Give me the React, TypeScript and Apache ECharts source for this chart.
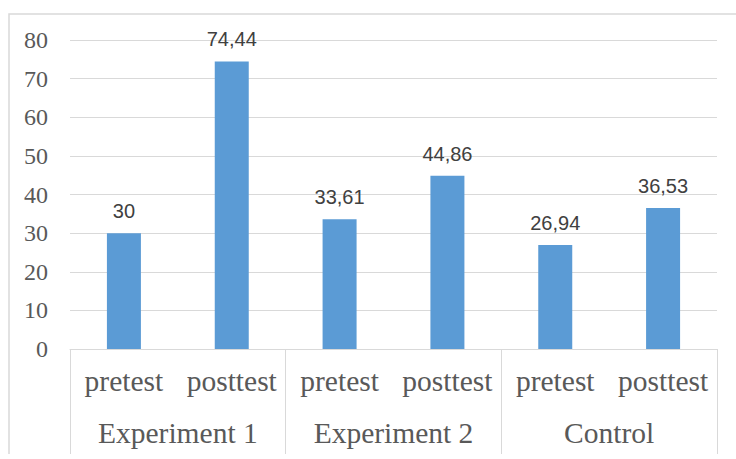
import React, { useEffect, useRef } from "react";
import * as echarts from "echarts";

// Mean scores per group, before and after the intervention
const groups = ["Experiment 1", "Experiment 2", "Control"];
const phases = ["pretest", "posttest"];
const scores = [30, 74.44, 33.61, 44.86, 26.94, 36.53];
const yTicks = { min: 0, max: 80, interval: 10 };

const phaseLabels = groups.flatMap(() => phases);

const GRID = "#d9d9d9";
const TEXT = "#595959";
const BAR = "#5b9bd5";
const SERIF = "Liberation Serif, serif";

export default function App() {
  const ref = useRef<HTMLDivElement>(null);

  useEffect(() => {
    if (!ref.current) return;
    const chart = echarts.init(ref.current, undefined, { renderer: "svg" });
    chart.setOption({
      animation: false,
      backgroundColor: "#ffffff",
      graphic: [
        {
          type: "rect",
          shape: { x: 9, y: 14, width: 760, height: 480 },
          style: { fill: "none", stroke: GRID, lineWidth: 1.5 },
          silent: true,
        },
      ],
      grid: { left: 70, right: 19, top: 40, bottom: 105 },
      xAxis: [
        {
          type: "category",
          data: phaseLabels,
          position: "bottom",
          axisLine: { show: true, lineStyle: { color: GRID, width: 1 } },
          axisTick: { show: false },
          splitLine: { show: false },
          axisLabel: {
            interval: 0,
            margin: 17,
            color: TEXT,
            fontFamily: SERIF,
            fontSize: 29.5,
          },
        },
        {
          type: "category",
          data: groups,
          position: "bottom",
          offset: 0,
          axisLine: { show: false },
          axisTick: {
            show: true,
            interval: 0,
            length: 110,
            lineStyle: { color: GRID, width: 1 },
          },
          splitLine: { show: false },
          axisLabel: {
            interval: 0,
            margin: 69,
            color: TEXT,
            fontFamily: SERIF,
            fontSize: 29.5,
          },
        },
      ],
      yAxis: {
        type: "value",
        min: yTicks.min,
        max: yTicks.max,
        interval: yTicks.interval,
        axisLine: { show: false },
        axisTick: { show: false },
        splitLine: { lineStyle: { color: GRID, width: 1 } },
        axisLabel: {
          margin: 22,
          color: TEXT,
          fontFamily: SERIF,
          fontSize: 24,
        },
      },
      series: [
        {
          type: "bar",
          xAxisIndex: 0,
          data: scores,
          barWidth: 34,
          itemStyle: { color: BAR },
          label: {
            show: true,
            position: "top",
            distance: 12,
            color: "#404040",
            fontFamily: "Liberation Sans, sans-serif",
            fontSize: 20,
            formatter: (p: any) => String(p.value).replace(".", ","),
          },
        },
      ],
    });
    return () => chart.dispose();
  }, []);

  return (
    <div
      ref={ref}
      style={{ position: "fixed", left: 0, top: 0, width: 736, height: 454 }}
    />
  );
}
